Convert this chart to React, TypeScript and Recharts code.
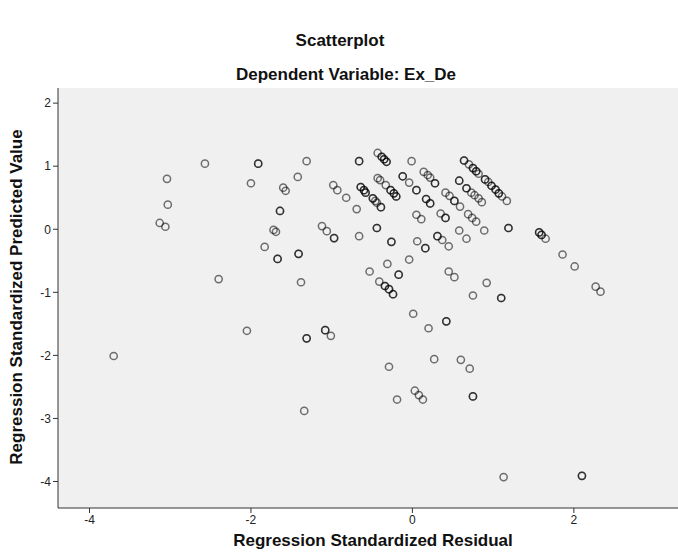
import { CartesianGrid, Scatter, ScatterChart, XAxis, YAxis } from 'recharts';

// SPSS residual plot: Dependent Variable Ex_De
const TITLE = 'Scatterplot';
const SUBTITLE = 'Dependent Variable: Ex_De';
const X_LABEL = 'Regression Standardized Residual';
const Y_LABEL = 'Regression Standardized Predicted Value';

const X_TICKS = [-4, -2, 0, 2];
const Y_TICKS = [-4, -3, -2, -1, 0, 1, 2];
const X_DOMAIN: [number, number] = [-4.39, 3.29];
const Y_DOMAIN: [number, number] = [-4.42, 2.24];

// standardized residuals; a repeated value means two cases land on the same spot
const residual = [
  -3.7, -2.57, -1.91, -1.91, -3.04, -2.0, -3.03, -3.13, -3.06, -2.4, -2.05,
  -1.31, -1.31, -1.08, -1.08, -1.01, -1.34,
  -1.31, -1.42, -1.6, -1.57, -1.64, -1.64, -1.72, -1.69, -1.83, -1.67, -1.67,
  -1.41, -1.41, -1.38, -1.12, -1.06, -0.97, -0.97,
  -0.66, -0.66, -0.43, -0.38, -0.38, -0.35, -0.35, -0.32, -0.32, -0.01,
  -0.98, -0.93, -0.82, -0.69, -0.64, -0.64, -0.6, -0.6, -0.58, -0.58,
  -0.49, -0.49, -0.46, -0.44, -0.39, -0.39,
  -0.43, -0.4, -0.33, -0.27, -0.27, -0.23, -0.23, -0.2, -0.2,
  -0.12, -0.12, -0.04, 0.05, 0.05, 0.14, 0.19, 0.22, 0.28, 0.28,
  0.17, 0.17, 0.22, 0.22, 0.05, 0.11, 0.35, 0.41, 0.41,
  -0.66, -0.44, -0.44, -0.26, -0.26, 0.06, 0.16, 0.16, 0.31, 0.31, 0.37, 0.45,
  -0.04, -0.31, -0.53, -0.17, -0.17, -0.41, -0.34, -0.34, -0.29, -0.29,
  -0.24, -0.24, 0.45, 0.52, 0.01, 0.2, 0.42, 0.42,
  0.41, 0.46, 0.52, 0.52, 0.59, 0.58, 0.58,
  0.64, 0.64, 0.7, 0.75, 0.75, 0.79, 0.79, 0.82, 0.9, 0.9, 0.94, 0.98, 0.98,
  1.03, 1.03, 1.07, 1.07, 1.11, 1.17,
  0.67, 0.67, 0.73, 0.77, 0.82, 0.86, 0.69, 0.74, 0.79,
  0.58, 0.67, 0.89, 1.19, 1.19, 1.57, 1.57, 1.6, 1.6, 1.65, 1.86, 2.01,
  2.27, 2.33, 0.92, 0.75, 1.1, 1.1,
  0.6, 0.71, 0.27, -0.29, 0.03, 0.08, 0.13, -0.19, 0.75, 0.75, 1.13, 2.1, 2.1,
];

// standardized predicted values, same order as residual
const predicted = [
  -2.01, 1.04, 1.04, 1.04, 0.8, 0.73, 0.39, 0.1, 0.04, -0.79, -1.61,
  -1.73, -1.73, -1.6, -1.6, -1.69, -2.88,
  1.08, 0.83, 0.66, 0.61, 0.29, 0.29, -0.01, -0.04, -0.28, -0.47, -0.47,
  -0.39, -0.39, -0.84, 0.05, -0.03, -0.14, -0.14,
  1.08, 1.08, 1.21, 1.15, 1.15, 1.11, 1.11, 1.07, 1.07, 1.08,
  0.7, 0.62, 0.5, 0.32, 0.67, 0.67, 0.62, 0.62, 0.58, 0.58,
  0.49, 0.49, 0.45, 0.42, 0.35, 0.35,
  0.81, 0.78, 0.7, 0.62, 0.62, 0.57, 0.57, 0.52, 0.52,
  0.84, 0.84, 0.74, 0.62, 0.62, 0.91, 0.86, 0.82, 0.73, 0.73,
  0.48, 0.48, 0.41, 0.41, 0.23, 0.16, 0.25, 0.18, 0.18,
  -0.11, 0.02, 0.02, -0.2, -0.2, -0.19, -0.3, -0.3, -0.11, -0.11, -0.17, -0.27,
  -0.48, -0.55, -0.67, -0.72, -0.72, -0.83, -0.9, -0.9, -0.95, -0.95,
  -1.03, -1.03, -0.67, -0.76, -1.34, -1.57, -1.46, -1.46,
  0.58, 0.53, 0.45, 0.45, 0.36, 0.77, 0.77,
  1.09, 1.09, 1.03, 0.97, 0.97, 0.92, 0.92, 0.88, 0.79, 0.79, 0.75, 0.69, 0.69,
  0.63, 0.63, 0.57, 0.57, 0.52, 0.45,
  0.65, 0.65, 0.58, 0.54, 0.49, 0.43, 0.24, 0.18, 0.12,
  -0.02, -0.15, -0.02, 0.02, 0.02, -0.05, -0.05, -0.09, -0.09, -0.15, -0.4, -0.59,
  -0.91, -0.99, -0.85, -1.05, -1.09, -1.09,
  -2.07, -2.21, -2.06, -2.18, -2.56, -2.63, -2.7, -2.7, -2.65, -2.65, -3.93, -3.91, -3.91,
];

const points = residual.map((x, i) => ({ x, y: predicted[i] }));

const FONT = '"Liberation Sans", Arial, sans-serif';
const TICK = { fontSize: 12, fill: '#222', fontFamily: FONT };

const Ring = (props: any) => (
  <circle
    cx={props.cx}
    cy={props.cy}
    r={3.6}
    fill="none"
    stroke="#000"
    strokeOpacity={0.55}
    strokeWidth={1.5}
  />
);

const textStyle = (cx: number, cy: number, size: number): React.CSSProperties => ({
  position: 'absolute',
  left: cx - 250,
  top: cy - 10,
  width: 500,
  height: 20,
  lineHeight: '20px',
  textAlign: 'center',
  fontFamily: FONT,
  fontWeight: 'bold',
  fontSize: size,
  color: '#111',
});

export default function App() {
  return (
    <div style={{ position: 'absolute', left: 0, top: 0, width: 678, height: 552, background: '#fff', overflow: 'hidden' }}>
      <div style={textStyle(340, 41, 17)}>{TITLE}</div>
      <div style={textStyle(346, 75, 17)}>{SUBTITLE}</div>
      <div style={textStyle(373, 541, 17)}>{X_LABEL}</div>
      <div style={{ ...textStyle(17, 297, 17), transform: 'rotate(-90deg)' }}>{Y_LABEL}</div>

      <ScatterChart
        width={678}
        height={552}
        margin={{ top: 88, right: 0, bottom: 0, left: 0 }}
        style={{ position: 'absolute', left: 0, top: 0 }}
      >
        <CartesianGrid fill="#f0f0f0" horizontal={false} vertical={false} />
        <XAxis
          xAxisId="top"
          orientation="top"
          type="number"
          dataKey="x"
          domain={X_DOMAIN}
          allowDataOverflow
          height={0}
          tick={false}
          tickLine={false}
          axisLine={{ stroke: '#333' }}
        />
        <XAxis
          type="number"
          dataKey="x"
          domain={X_DOMAIN}
          ticks={X_TICKS}
          allowDataOverflow
          height={44}
          tick={TICK}
          tickSize={5}
          tickLine={{ stroke: '#333' }}
          axisLine={{ stroke: '#333' }}
        />
        <YAxis
          type="number"
          dataKey="y"
          domain={Y_DOMAIN}
          ticks={Y_TICKS}
          allowDataOverflow
          width={58}
          tick={TICK}
          tickSize={5}
          tickLine={{ stroke: '#333' }}
          axisLine={{ stroke: '#333' }}
        />
        <Scatter data={points} shape={Ring} isAnimationActive={false} />
      </ScatterChart>
    </div>
  );
}
